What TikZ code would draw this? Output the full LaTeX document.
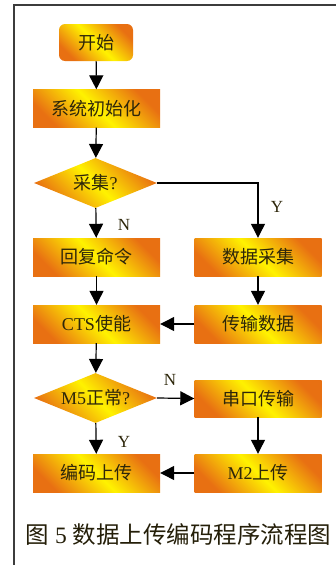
\documentclass[tikz,border=0pt]{standalone}
\usepackage{fontspec}
\setmainfont{Liberation Serif}
\newfontfamily\cjk{Noto Sans CJK SC}
\usetikzlibrary{shapes.geometric,arrows.meta,calc}
\definecolor{gorange}{RGB}{232,112,18}
\definecolor{gyellow}{RGB}{255,242,0}
\definecolor{txt}{RGB}{45,38,10}
\definecolor{frame}{RGB}{60,60,60}
\begin{document}
\begin{tikzpicture}[x=1pt,y=-1pt,
  grad/.style={shading=axis,top color=gorange,bottom color=gorange,middle color=gyellow,shading angle=-45},
  boxnode/.style={grad,draw=none,minimum width=127pt,minimum height=38pt,inner sep=0pt,
    font=\fontsize{18pt}{20pt}\selectfont,text=txt},
  startnode/.style={boxnode,rounded corners=6pt,minimum width=74pt,minimum height=37pt},
  decnode/.style={grad,shape=diamond,shape aspect=2.46,draw=none,minimum width=123pt,minimum height=50pt,inner sep=0pt,
    font=\fontsize{18pt}{20pt}\selectfont,text=txt},
  conn/.style={draw=black,line width=1.2pt,-{Triangle[length=14pt,width=14pt]}},
  lbl/.style={font=\fontsize{17pt}{19pt}\selectfont,text=txt,inner sep=0pt}
]
\useasboundingbox (0,0) rectangle (336,565);
\draw[frame,line width=1.6pt] (14,566) -- (14,5) -- (337,5);

\node[startnode] (start) at (96,42.5) {\cjk 开始};
\node[boxnode] (init) at (96.5,108.5) {\cjk 系统初始化};
\node[decnode] (q1) at (95.5,183) {{\cjk 采集}?};
\node[boxnode] (reply) at (96.5,257) {\cjk 回复命令};
\node[boxnode] (collect) at (258,257) {\cjk 数据采集};
\node[boxnode] (cts) at (96.5,324) {CTS{\cjk 使能}};
\node[boxnode] (trans) at (258,324) {\cjk 传输数据};
\node[decnode] (q2) at (95.5,398) {M5{\cjk 正常}?};
\node[boxnode,minimum height=37pt] (serial) at (258,398.5) {\cjk 串口传输};
\node[boxnode] (encode) at (96.5,473) {\cjk 编码上传};
\node[boxnode] (m2) at (258,473) {M2{\cjk 上传}};

\draw[conn] (start) -- (init);
\draw[conn] (init) -- (q1);
\draw[conn] (q1) -- (reply);
\draw[conn] (q1.east) -| (collect.north);
\draw[conn] (reply) -- (cts);
\draw[conn] (collect) -- (trans);
\draw[conn] (trans) -- (cts);
\draw[conn] (cts) -- (q2);
\draw[conn] (q2.east) -- (serial.west);
\draw[conn] (q2) -- (encode);
\draw[conn] (serial) -- (m2);
\draw[conn] (m2) -- (encode);

\node[lbl] (ln1) at (124,225) {N};
\node[lbl] (ly1) at (277,207) {Y};
\node[lbl] (ln2) at (170,380) {N};
\node[lbl] (ly2) at (124,442) {Y};

\node[font=\fontsize{23.5pt}{25pt}\selectfont,text=txt!80!black,inner sep=0pt] (cap) at (178.5,535) {{\cjk 图} 5 {\cjk 数据上传编码程序流程图}};
\end{tikzpicture}
\end{document}
